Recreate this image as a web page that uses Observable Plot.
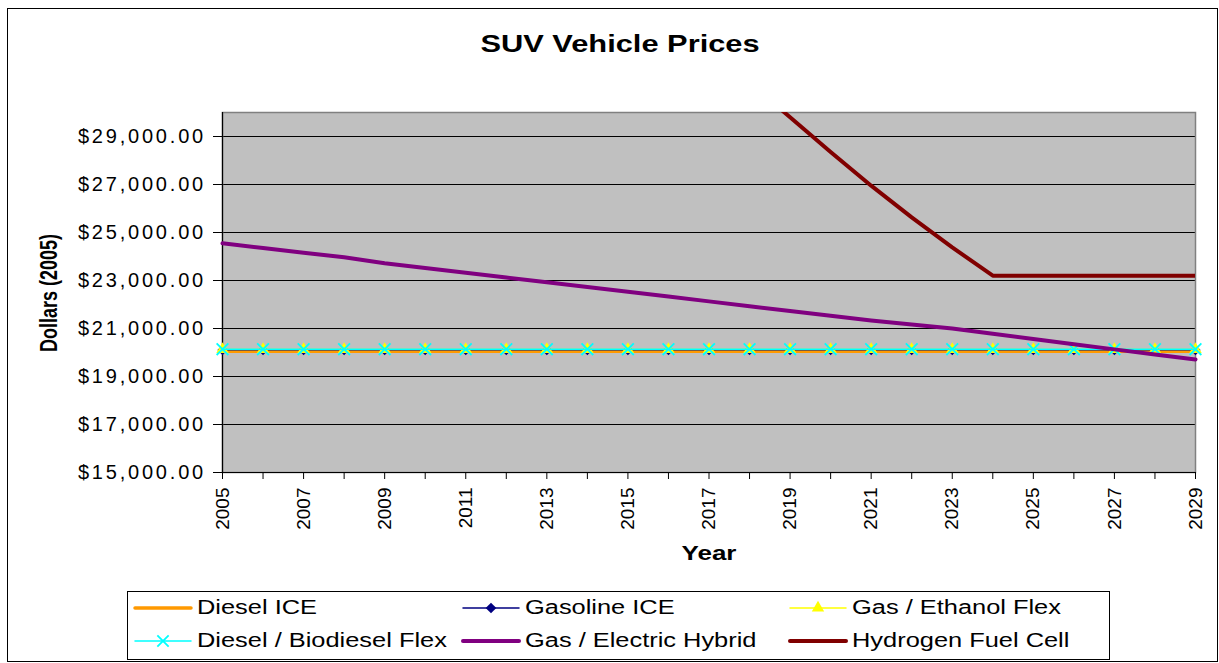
<!DOCTYPE html>
<html><head><meta charset="utf-8">
<script src="https://cdn.jsdelivr.net/npm/d3@7"></script>
<script src="https://cdn.jsdelivr.net/npm/@observablehq/plot@0.6"></script>
<style>
html,body{margin:0;padding:0;background:#fff;}
#chart{position:relative;width:1219px;height:663px;overflow:hidden;font-family:"Liberation Sans",Arial,sans-serif;background:#fff;}
#chart svg{position:absolute;left:0;top:0;}
</style></head><body><div id="chart"></div>
<script>
// ---- data ----
const years = [2005,2006,2007,2008,2009,2010,2011,2012,2013,2014,2015,2016,2017,2018,2019,2020,2021,2022,2023,2024,2025,2026,2027,2028,2029];
const dieselICE     = [20050,20050,20050,20050,20050,20050,20050,20050,20050,20050,20050,20050,20050,20050,20050,20050,20050,20050,20050,20050,20050,20050,20050,20050,20050];
const gasolineICE   = [20100,20100,20100,20100,20100,20100,20100,20100,20100,20100,20100,20100,20100,20100,20100,20100,20100,20100,20100,20100,20100,20100,20100,20100,20100];
const ethanolFlex   = [20130,20130,20130,20130,20130,20130,20130,20130,20130,20130,20130,20130,20130,20130,20130,20130,20130,20130,20130,20130,20130,20130,20130,20130,20130];
const biodieselFlex = [20140,20140,20140,20140,20140,20140,20140,20140,20140,20140,20140,20140,20140,20140,20140,20140,20140,20140,20140,20140,20140,20140,20140,20140,20140];
const hybrid        = [24550,24355,24160,23970,23720,23520,23320,23125,22930,22730,22530,22330,22130,21930,21730,21530,21330,21165,21000,20780,20560,20345,20130,19920,19710];
const hydrogen      = [null,null,null,null,null,null,null,null,null,null,null,null,null,31250,29800,28350,26950,25630,24380,23200,23200,23200,23200,23200,23200];
const yTicks = [15000,17000,19000,21000,23000,25000,27000,29000];
const gridTicks = [17000,19000,21000,23000,25000,27000,29000];
const seriesNames = ["Diesel ICE","Gasoline ICE","Gas / Ethanol Flex","Diesel / Biodiesel Flex","Gas / Electric Hybrid","Hydrogen Fuel Cell"];
const seriesColors = ["#FF9900","#000080","#FFFF00","#00FFFF","#800080","#800000"];
const title = "SUV Vehicle Prices";
const yLabel = "Dollars (2005)";
const xLabel = "Year";

const rows = years.map((yr,i)=>({year:yr, d:dieselICE[i], g:gasolineICE[i], e:ethanolFlex[i], b:biodieselFlex[i], h:hybrid[i], f:hydrogen[i]}));
const FONT = "Liberation Sans, Arial, sans-serif";
const fmt = d3.format(",.2f");

const plot = Plot.plot({
  width:1219, height:590,
  marginLeft:222, marginRight:24, marginTop:112, marginBottom:118,
  style:{fontFamily:FONT, background:"transparent", color:"#000", overflow:"visible"},
  x:{domain:[2005,2029]},
  y:{domain:[15000,30000]},
  marks:[
    Plot.frame({fill:"#c0c0c0"}),
    Plot.gridY(gridTicks,{stroke:"#000", strokeOpacity:1, strokeWidth:1}),
    Plot.frame({stroke:"#808080", strokeWidth:1.5}),
    Plot.ruleX([2005],{stroke:"#000", strokeWidth:1.2}),
    Plot.ruleY([15000],{stroke:"#000", strokeWidth:1.2}),
    Plot.line(rows,{x:"year", y:"d", stroke:seriesColors[0], strokeWidth:3.5}),
    Plot.line(rows,{x:"year", y:"g", stroke:seriesColors[1], strokeWidth:1.5}),
    Plot.dot(rows,{x:"year", y:"g", symbol:"diamond2", r:4.6, fill:seriesColors[1], stroke:null}),
    Plot.line(rows,{x:"year", y:"e", stroke:seriesColors[2], strokeWidth:1.5}),
    Plot.dot(rows,{x:"year", y:"e", symbol:"triangle", r:4.6, fill:seriesColors[2], stroke:null}),
    Plot.line(rows,{x:"year", y:"b", stroke:seriesColors[3], strokeWidth:1.5}),
    Plot.dot(rows,{x:"year", y:"b", symbol:"times", r:5.4, stroke:seriesColors[3], strokeWidth:1.8, fill:"none"}),
    Plot.line(rows,{x:"year", y:"h", stroke:seriesColors[4], strokeWidth:4}),
    Plot.line(rows,{x:"year", y:"f", stroke:seriesColors[5], strokeWidth:4, clip:true}),
    Plot.axisY({ticks:yTicks, tickFormat:d=>"$"+fmt(d), tickSize:9, tickPadding:7.5, fontSize:20, label:null}),
    Plot.axisX({ticks:years, tickFormat:d=>(d%2===1?String(d):""), tickRotate:-90, tickSize:7, tickPadding:8, fontSize:19, label:null})
  ]
});
const chart = document.getElementById("chart");
chart.appendChild(plot);

// the reference's horizontal text is wide: widen the y tick labels
plot.querySelectorAll('[aria-label="y-axis tick label"] text').forEach(t=>{ t.style.letterSpacing = "2.8px"; });

// overlay: border, title, axis titles, legend
const ov = d3.select(chart).append("svg").attr("width",1219).attr("height",663)
  .style("font-family",FONT).style("pointer-events","none");
ov.append("rect").attr("x",7.5).attr("y",8.5).attr("width",1210).attr("height",653)
  .attr("fill","none").attr("stroke","#000").attr("stroke-width",1);
ov.append("text").attr("transform","translate(620,52) scale(1.34,1)")
  .attr("text-anchor","middle").attr("font-weight","bold").attr("font-size",23).text(title);
ov.append("text").attr("transform","translate(57,293) scale(1.3,1) rotate(-90)")
  .attr("text-anchor","middle").attr("font-weight","bold").attr("font-size",18).text(yLabel);
ov.append("text").attr("transform","translate(709,560) scale(1.3,1)")
  .attr("text-anchor","middle").attr("font-weight","bold").attr("font-size",20).text(xLabel);

// legend
ov.append("rect").attr("x",127.5).attr("y",591.5).attr("width",982).attr("height",68)
  .attr("fill","#fff").attr("stroke","#000").attr("stroke-width",1);
const colX = [135,463,790];
const rowY = [608,641];
const widths = [3.5,1.5,1.5,1.5,4,4];
const syms = [null, d3.symbolDiamond2, d3.symbolTriangle, d3.symbolTimes, null, null];
const symSize = [0, Math.PI*4.8*4.8, Math.PI*4.6*4.6, Math.PI*5.2*5.2, 0, 0];
seriesNames.forEach((name,i)=>{
  const cx = colX[i%3], cy = rowY[Math.floor(i/3)];
  const g = ov.append("g");
  g.append("line").attr("x1",cx).attr("x2",cx+56).attr("y1",cy).attr("y2",cy)
    .attr("stroke",seriesColors[i]).attr("stroke-width",widths[i]).attr("stroke-linecap","round");
  if (syms[i]) {
    const p = g.append("path").attr("d", d3.symbol(syms[i], symSize[i])())
      .attr("transform",`translate(${cx+28},${cy})`);
    if (syms[i]===d3.symbolTimes) p.attr("fill","none").attr("stroke",seriesColors[i]).attr("stroke-width",1.8);
    else p.attr("fill",seriesColors[i]);
  }
  g.append("text").attr("transform",`translate(${cx+62},${cy+6}) scale(1.27,1)`)
    .attr("font-size",20).attr("fill","#000").text(name);
});
</script></body></html>
